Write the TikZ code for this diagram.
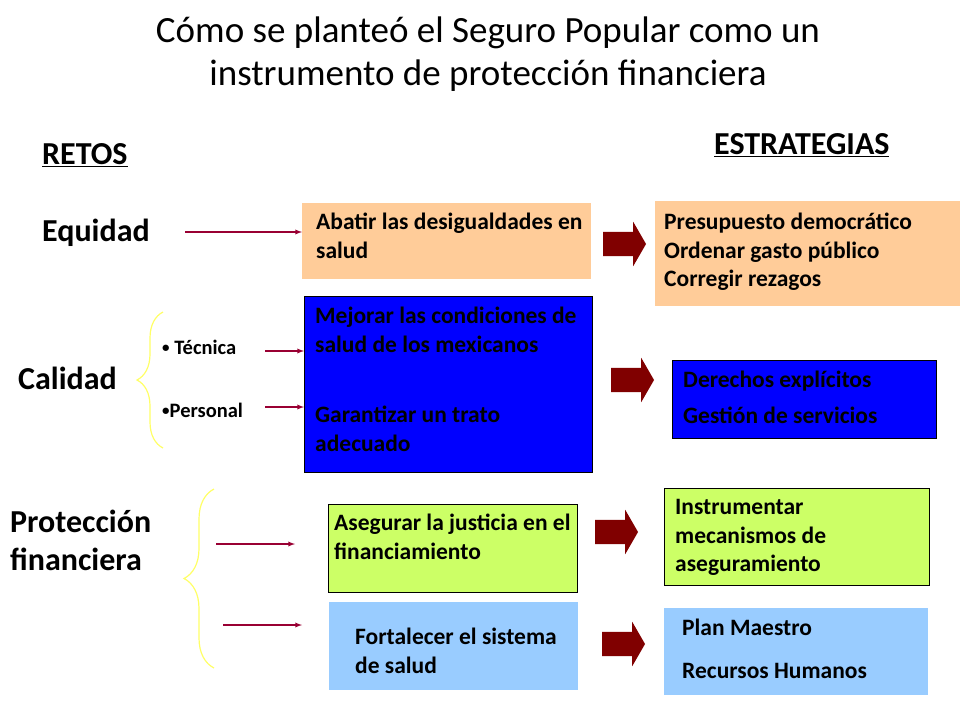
\documentclass[tikz,border=0pt]{standalone}
\usepackage{fontspec}
\setmainfont{Carlito}
\usetikzlibrary{shapes.arrows,decorations.pathreplacing}
\definecolor{durazno}{HTML}{FFCC99}
\definecolor{lima}{HTML}{CCFF66}
\definecolor{celeste}{HTML}{99CCFF}
\definecolor{azul}{HTML}{0000FF}
\definecolor{granate}{HTML}{800000}
\definecolor{vino}{HTML}{990033}
\definecolor{amarillo}{HTML}{FFFF66}
\newcommand{\punto}{\raisebox{2pt}{\fontsize{15}{15}\selectfont\textbullet}}
\tikzset{
  reto/.style={anchor=west, inner sep=0pt, font=\bfseries\fontsize{32}{38}\selectfont},
  subreto/.style={anchor=west, inner sep=0pt, font=\bfseries\fontsize{20.5}{24}\selectfont},
  caja/.style={anchor=north west, inner sep=0pt},
  texto/.style={anchor=base west, align=left, inner sep=0pt, font=\bfseries\fontsize{23.5}{28.5}\selectfont},
  flecha/.style={-latex, draw=vino, line width=1.3pt},
  bloque/.style={single arrow, fill=granate, inner sep=12pt, minimum height=43pt,
    minimum width=44pt, single arrow head extend=10pt, single arrow tip angle=120},
  llave/.style={draw=amarillo, line width=1.2pt, decorate, decoration={brace, amplitude=#1}}
}
\begin{document}
\begin{tikzpicture}[x=1pt,y=-1pt]
\useasboundingbox (0,0) rectangle (960,720);
% titulo
\node[align=center, font=\fontsize{37}{43}\selectfont] (titulo) at (488,54)
  {Cómo se planteó el Seguro Popular como un\\instrumento de protección financiera};
\node[reto] (retos) at (42,155) {\underline{RETOS}};
\node[reto] (estrategias) at (714,145) {\underline{ESTRATEGIAS}};

% retos
\node[reto] (equidad) at (42,233) {Equidad};
\node[reto] (calidad) at (18,378) {Calidad};
\node[reto, align=left] (proteccion) at (10,540) {Protección\\financiera};
\node[subreto] (tecnica) at (162,347) {\punto\ Técnica};
\node[subreto] (personal) at (162,410) {\punto Personal};
\draw[llave=26] (163,448) -- (163,312);
\draw[llave=30] (214,668) -- (214,489);

% cajas del centro (texto anclado en la base de la ultima linea)
\node[caja, fill=durazno, minimum width=289pt, minimum height=76pt] (abatir) at (302,203) {};
\node[caja, fill=azul, draw=black, minimum width=288pt, minimum height=176pt] (mejorar) at (304,296) {};
\node[caja, fill=lima, draw=black, minimum width=249pt, minimum height=88pt] (asegurar) at (328,504) {};
\node[caja, fill=celeste, minimum width=249pt, minimum height=88pt] (fortalecer) at (329,602) {};
\node[texto] (tabatir) at (316,258) {Abatir las desigualdades en\\salud};
\node[texto] (tmejorar) at (315,352) {Mejorar las condiciones de\\salud de los mexicanos};
\node[texto] (tgarantizar) at (315,451) {Garantizar un trato\\adecuado};
\node[texto] (tasegurar) at (334,559) {Asegurar la justicia en el\\financiamiento};
\node[texto] (tfortalecer) at (355,673) {Fortalecer el sistema\\de salud};

% cajas de estrategias
\node[caja, fill=durazno, minimum width=305pt, minimum height=105pt] (presupuesto) at (655,201) {};
\node[caja, fill=azul, draw=black, minimum width=264pt, minimum height=78pt] (derechos) at (672,360) {};
\node[caja, fill=lima, draw=black, minimum width=265pt, minimum height=97pt] (instrumentar) at (664,488) {};
\node[caja, fill=celeste, minimum width=264pt, minimum height=87pt] (plan) at (664,608) {};
\node[texto] (tpresupuesto) at (664,286.5) {Presupuesto democrático\\Ordenar gasto público\\Corregir rezagos};
\node[texto] (tderechos) at (683,423.5) {Derechos explícitos\\[7.5pt]Gestión de servicios};
\node[texto] (tinstrumentar) at (675,571.5) {Instrumentar\\mecanismos de\\aseguramiento};
\node[texto] (tplan) at (682,678.5) {Plan Maestro\\[14.5pt]Recursos Humanos};

% flechas delgadas
\coordinate (e0) at (185,232);
\coordinate (t0) at (265,351);
\coordinate (p0) at (265,407);
\coordinate (a0) at (216,544);
\coordinate (f0) at (223,625);
\draw[flecha] (e0) -- (abatir.west |- e0);
\draw[flecha] (t0) -- (mejorar.west |- t0);
\draw[flecha] (p0) -- (mejorar.west |- p0);
\draw[flecha] (a0) -- (295,544);
\draw[flecha] (f0) -- (302,625);

% flechas gruesas
\node[bloque] (b1) at (621,244) {};
\node[bloque] (b2) at (629,380) {};
\node[bloque] (b3) at (613,532) {};
\node[bloque] (b4) at (620,644) {};
\end{tikzpicture}
\end{document}
